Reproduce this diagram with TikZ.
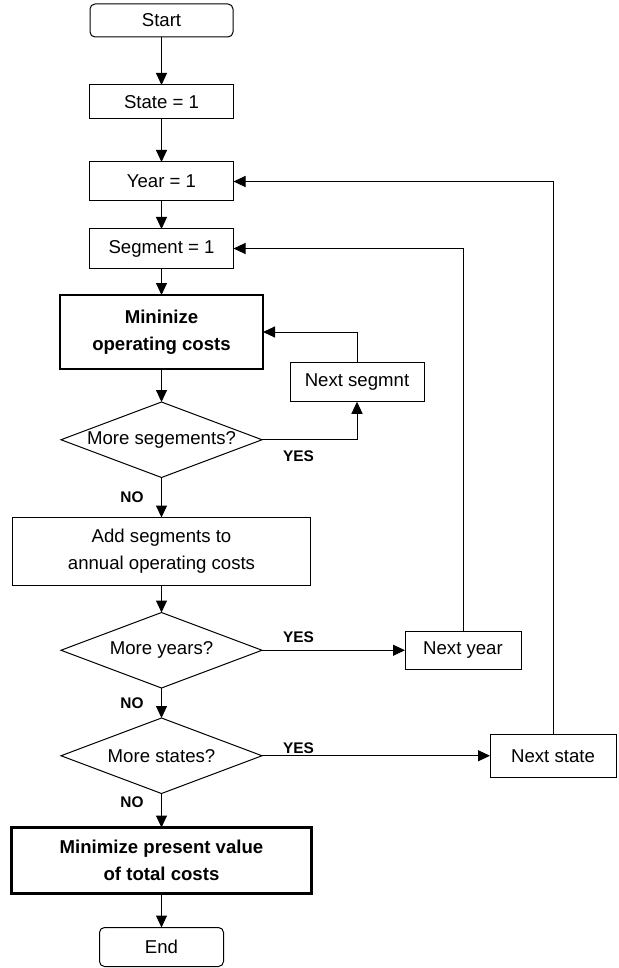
\documentclass[tikz,border=0pt]{standalone}
\usepackage{fontspec}
\setmainfont{Liberation Sans}
\usetikzlibrary{shapes,arrows.meta,positioning}

\begin{document}
\begin{tikzpicture}[
    font=\fontsize{9.3}{13.5}\selectfont,
    line width=0.5pt,
    base/.style={draw,inner sep=2pt,outer sep=0pt,align=center},
    terminal/.style={base,rectangle,rounded corners=2.5pt,minimum width=71.5pt,minimum height=16.5pt},
    process/.style={base,rectangle,minimum width=72pt,minimum height=19.5pt},
    stage/.style={base,rectangle,line width=1.4pt,font=\fontsize{9.3}{13.5}\selectfont\bfseries},
    decision/.style={base,diamond,aspect=2.9,inner sep=0pt,minimum width=100.5pt,minimum height=37.75pt},
    answer/.style={inner sep=0pt,outer sep=0pt,font=\fontsize{7.7}{9}\selectfont\bfseries},
    arrow/.style={-{Triangle[length=6pt,width=5.5pt]}}
]
\useasboundingbox (0,0) rectangle (309pt,-484pt);

% Main column
\node[terminal] (start) at (80.75pt,-10.25pt) {Start};
\node[process, below=24pt of start, minimum height=17pt] (state) {State = 1};
\node[process, below=21.5pt of state] (year) {Year = 1};
\node[process, below=14pt of year] (segment) {Segment = 1};
\node[stage, below=13.5pt of segment, minimum width=101.5pt, minimum height=37pt] (minops) {Mininize\\operating costs};
\node[decision, below=16.5pt of minops] (moreseg) {More segements?};
\node[process, below=20pt of moreseg, minimum width=149pt, minimum height=34pt] (add) {Add segments to\\annual operating costs};
\node[decision, below=13.5pt of add] (moreyears) {More years?};
\node[decision, below=15pt of moreyears] (morestates) {More states?};
\node[stage, below=17pt of morestates, minimum width=150pt, minimum height=33pt] (minpv) {Minimize present value\\of total costs};
\node[terminal, below=17pt of minpv, minimum width=62pt, minimum height=19.5pt] (finish) {End};

% Loop boxes
\node[process, above right=19pt and 14pt of moreseg.east, minimum width=67pt] (nextseg) {Next segmnt};
\node[process, right=71.5pt of moreyears, minimum width=58pt, minimum height=19pt] (nextyear) {Next year};
\node[process, right=114pt of morestates, minimum width=63pt, minimum height=21.5pt] (nextstate) {Next state};

% YES labels
\node[answer, below right=5.5pt and 10.5pt of moreseg.east] (yes1) {YES};
\node[answer, above right=4pt and 10.5pt of moreyears.east] (yes2) {YES};
\node[answer, above right=1pt and 10.5pt of morestates.east] (yes3) {YES};

% Connections
\draw[arrow] (start) -- (state);
\draw[arrow] (state) -- (year);
\draw[arrow] (year) -- (segment);
\draw[arrow] (segment) -- (minops);
\draw[arrow] (minops) -- (moreseg);
\draw[arrow] (moreseg) -- node[answer, left=9pt] (no1) {NO} (add);
\draw[arrow] (moreseg.east) -| (nextseg.south);
\draw[arrow] (nextseg.north) |- (minops.east);
\draw[arrow] (add) -- (moreyears);
\draw[arrow] (moreyears) -- node[answer, left=9pt] (no2) {NO} (morestates);
\draw[arrow] (moreyears) -- (nextyear);
\draw[arrow] (nextyear.north) |- (segment.east);
\draw[arrow] (morestates) -- node[answer, left=9pt, pos=0.25] (no3) {NO} (minpv);
\draw[arrow] (morestates) -- (nextstate);
\draw[arrow] (nextstate.north) |- (year.east);
\draw[arrow] (minpv) -- (finish);

\end{tikzpicture}
\end{document}
